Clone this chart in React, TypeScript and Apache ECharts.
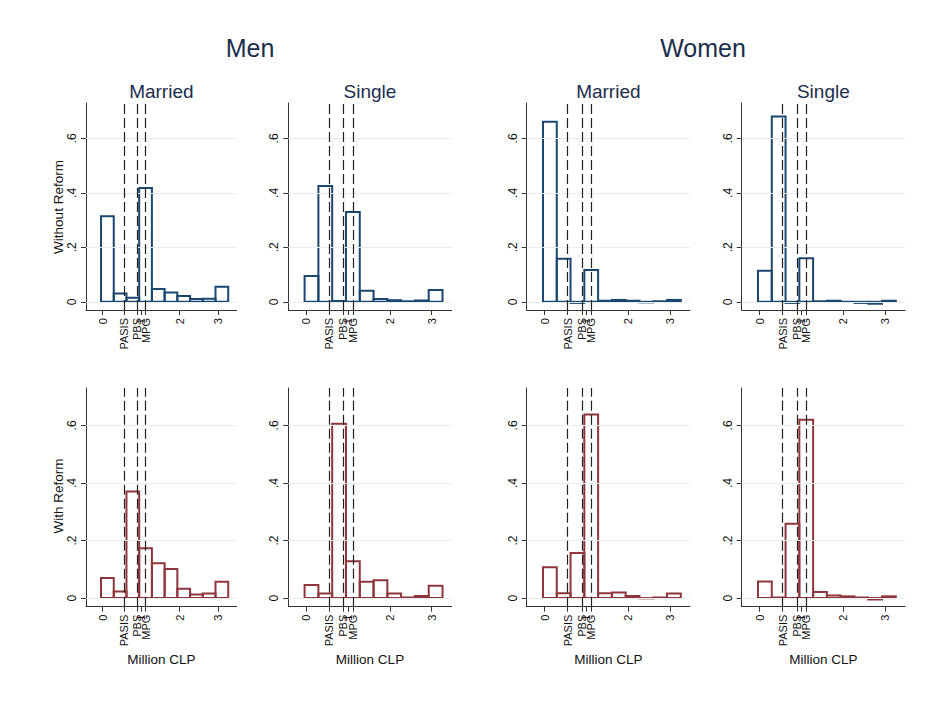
import React, { useEffect, useRef } from "react";
import * as echarts from "echarts";

// ---- data ----
const binEdges = [-0.04, 0.29, 0.62, 0.95, 1.28, 1.61, 1.94, 2.27, 2.6, 2.93, 3.26];

const menMarriedWithout = [0.314, 0.031, 0.015, 0.418, 0.047, 0.034, 0.021, 0.01, 0.011, 0.055];
const menSingleWithout = [0.095, 0.425, 0.003, 0.33, 0.041, 0.01, 0.006, 0.002, 0.005, 0.043];
const womenMarriedWithout = [0.661, 0.158, -0.004, 0.117, 0.004, 0.007, 0.004, -0.002, 0.002, 0.007];
const womenSingleWithout = [0.114, 0.68, -0.004, 0.16, 0.002, 0.004, 0.0, -0.004, -0.007, 0.004];

const menMarriedWith = [0.07, 0.023, 0.37, 0.173, 0.121, 0.101, 0.032, 0.012, 0.016, 0.057];
const menSingleWith = [0.045, 0.016, 0.606, 0.128, 0.057, 0.062, 0.016, 0.002, 0.007, 0.043];
const womenMarriedWith = [0.107, 0.017, 0.157, 0.638, 0.017, 0.019, 0.007, -0.001, 0.002, 0.016];
const womenSingleWith = [0.058, 0.002, 0.258, 0.62, 0.021, 0.009, 0.006, 0.002, -0.005, 0.006];

const refLineValues = [0.55, 0.89, 1.12];
const refLineNames = ["PASIS", "PBS", "MPG"];

const xTickValues = [0, 0.55, 0.89, 1, 1.12, 2, 3];
const xTickLabels = ["0", "PASIS", "PBS", "1", "MPG", "2", "3"];
const yTickValues = [0, 0.2, 0.4, 0.6];
const yTickLabels = ["0", ".2", ".4", ".6"];

const groupTitles = ["Men", "Women"];
const colTitles = ["Married", "Single", "Married", "Single"];
const rowTitles = ["Without Reform", "With Reform"];
const xAxisTitle = "Million CLP";

const panelData = [
  menMarriedWithout, menSingleWithout, womenMarriedWithout, womenSingleWithout,
  menMarriedWith, menSingleWith, womenMarriedWith, womenSingleWith,
];

// ---- layout ----
const colLeft = [86, 288.3, 526.7, 741.7];
const colWidth = [150.7, 163.4, 163.3, 163.3];
const rowTop = [103, 388];
const rowHeight = [207, 218.7];
const X_MIN = -0.43;
const X_MAX = 3.48;
const Y_MIN = -0.03;
const Y_MAX = 0.73;
const NAVY = "#1a476f";
const RED = "#90353b";
const FONT = "'Liberation Sans', Arial, sans-serif";
const TITLE_COLOR = "#1c2d4c";

export default function App() {
  const ref = useRef<HTMLDivElement>(null);

  useEffect(() => {
    document.body.style.margin = "0";
    if (!ref.current) return;
    const chart = echarts.init(ref.current, undefined, { renderer: "svg" });

    const grids: any[] = [];
    const xAxes: any[] = [];
    const yAxes: any[] = [];
    const series: any[] = [];

    for (let i = 0; i < 8; i++) {
      const r = Math.floor(i / 4);
      const c = i % 4;
      const color = r === 0 ? NAVY : RED;
      grids.push({
        left: colLeft[c],
        top: rowTop[r],
        width: colWidth[c],
        height: rowHeight[r],
        containLabel: false,
      });
      xAxes.push({
        type: "value",
        gridIndex: i,
        min: X_MIN,
        max: X_MAX,
        axisLine: { show: true, onZero: false, lineStyle: { color: "#333", width: 1 } },
        axisTick: { show: true, length: 5, customValues: xTickValues, lineStyle: { color: "#333" } },
        axisLabel: {
          show: true,
          customValues: xTickValues,
          rotate: 90,
          margin: 8,
          fontSize: 11,
          fontFamily: FONT,
          color: "#111",
          formatter: (v: number) => {
            const k = xTickValues.findIndex((t) => Math.abs(t - v) < 1e-6);
            return k >= 0 ? xTickLabels[k] : "";
          },
        },
        splitLine: { show: false },
      });
      yAxes.push({
        type: "value",
        gridIndex: i,
        min: Y_MIN,
        max: Y_MAX,
        axisLine: { show: true, onZero: false, lineStyle: { color: "#333", width: 1 } },
        axisTick: { show: true, length: 5, customValues: yTickValues, lineStyle: { color: "#333" } },
        axisLabel: {
          show: true,
          customValues: yTickValues,
          rotate: 90,
          margin: 8,
          fontSize: 12,
          fontFamily: FONT,
          color: "#111",
          formatter: (v: number) => {
            const k = yTickValues.findIndex((t) => Math.abs(t - v) < 1e-6);
            return k >= 0 ? yTickLabels[k] : "";
          },
        },
        splitLine: { show: false },
      });

      const vals = panelData[i];
      const data = vals.map((h, k) => [binEdges[k], binEdges[k + 1], h]);

      // gridlines
      series.push({
        type: "line",
        xAxisIndex: i,
        yAxisIndex: i,
        data: [],
        silent: true,
        z: 1,
        markLine: {
          silent: true,
          symbol: "none",
          label: { show: false },
          animation: false,
          lineStyle: { color: "#e6eef0", type: "solid", width: 1 },
          data: yTickValues.map((v) => ({ yAxis: v })),
        },
      });

      series.push({
        type: "custom",
        xAxisIndex: i,
        yAxisIndex: i,
        z: 2,
        clip: false,
        encode: { x: [0, 1], y: 2 },
        data,
        renderItem: (params: any, api: any) => {
          const p0 = api.coord([api.value(0), 0]);
          const p1 = api.coord([api.value(1), api.value(2)]);
          const y = Math.min(p0[1], p1[1]);
          const h = Math.abs(p0[1] - p1[1]);
          return {
            type: "rect",
            shape: { x: p0[0], y, width: p1[0] - p0[0], height: h },
            style: { fill: "none", stroke: color, lineWidth: 2 },
          };
        },
      });

      // dashed reference lines
      series.push({
        type: "line",
        xAxisIndex: i,
        yAxisIndex: i,
        data: [],
        silent: true,
        z: 3,
        markLine: {
          silent: true,
          symbol: "none",
          label: { show: false },
          animation: false,
          lineStyle: { color: "#222", type: [10, 4], width: 1.2 },
          data: refLineValues.map((v, k) => ({ xAxis: v, name: refLineNames[k] })),
        },
      });
    }

    const graphics: any[] = [];
    const groupCenters = [250, 703];
    groupTitles.forEach((t, k) => {
      graphics.push({
        type: "text",
        x: groupCenters[k],
        y: 48,
        style: { text: t, font: `25px ${FONT}`, fill: TITLE_COLOR, align: "center", verticalAlign: "middle" },
      });
    });
    colTitles.forEach((t, c) => {
      graphics.push({
        type: "text",
        x: colLeft[c] + colWidth[c] / 2,
        y: 91,
        style: { text: t, font: `19px ${FONT}`, fill: TITLE_COLOR, align: "center", verticalAlign: "middle" },
      });
      graphics.push({
        type: "text",
        x: colLeft[c] + colWidth[c] / 2,
        y: 659,
        style: { text: xAxisTitle, font: `13.5px ${FONT}`, fill: "#111", align: "center", verticalAlign: "middle" },
      });
    });
    const rowCenters = [207, 496];
    rowTitles.forEach((t, r) => {
      graphics.push({
        type: "text",
        x: 58,
        y: rowCenters[r],
        rotation: Math.PI / 2,
        style: { text: t, font: `13.5px ${FONT}`, fill: "#111", align: "center", verticalAlign: "middle" },
      });
    });

    chart.setOption({
      animation: false,
      backgroundColor: "#ffffff",
      grid: grids,
      xAxis: xAxes,
      yAxis: yAxes,
      series,
      graphic: graphics,
    });

    return () => chart.dispose();
  }, []);

  return <div ref={ref} style={{ width: 932, height: 711 }} />;
}
